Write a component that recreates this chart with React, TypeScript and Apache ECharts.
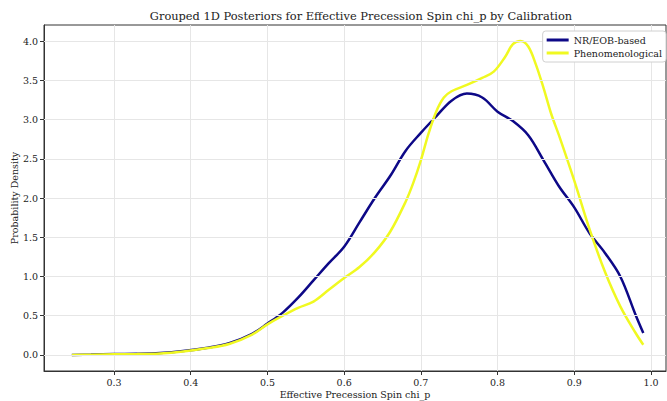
import React, { useEffect, useRef } from "react";
import * as echarts from "echarts";

const blueX = [0.245, 0.27, 0.3, 0.33, 0.36, 0.39, 0.42, 0.45, 0.48, 0.5, 0.52, 0.54, 0.56, 0.58, 0.6, 0.62, 0.64, 0.66, 0.68, 0.7, 0.72, 0.74, 0.76, 0.78, 0.8, 0.82, 0.84, 0.86, 0.88, 0.9, 0.92, 0.94, 0.96, 0.98, 0.99];
const blueY = [0.0, 0.005, 0.012, 0.015, 0.025, 0.05, 0.09, 0.15, 0.27, 0.4, 0.54, 0.73, 0.95, 1.17, 1.38, 1.69, 2.0, 2.28, 2.6, 2.83, 3.04, 3.24, 3.33, 3.28, 3.1, 2.98, 2.8, 2.48, 2.15, 1.88, 1.55, 1.3, 1.0, 0.51, 0.28];

const yellowX = [0.245, 0.27, 0.3, 0.33, 0.36, 0.39, 0.42, 0.45, 0.48, 0.5, 0.52, 0.54, 0.56, 0.58, 0.6, 0.62, 0.64, 0.66, 0.68, 0.69, 0.7, 0.71, 0.72, 0.73, 0.74, 0.76, 0.78, 0.795, 0.81, 0.82, 0.83, 0.84, 0.85, 0.86, 0.87, 0.88, 0.9, 0.92, 0.94, 0.96, 0.98, 0.99];
const yellowY = [0.0, 0.003, 0.008, 0.012, 0.02, 0.045, 0.085, 0.14, 0.26, 0.39, 0.5, 0.6, 0.68, 0.83, 0.98, 1.12, 1.31, 1.57, 1.95, 2.19, 2.48, 2.82, 3.1, 3.28, 3.36, 3.44, 3.53, 3.61, 3.8, 3.96, 4.0, 3.93, 3.7, 3.4, 3.07, 2.8, 2.22, 1.6, 1.06, 0.62, 0.28, 0.13];

const seriesNames = ["NR/EOB-based", "Phenomenological"];
const seriesColors = ["#0d0887", "#f0f921"];
const xTicks = [0.3, 0.4, 0.5, 0.6, 0.7, 0.8, 0.9, 1.0];
const yTicks = [0, 0.5, 1, 1.5, 2, 2.5, 3, 3.5, 4];

const FONT = "DejaVu Serif";

export default function App() {
  const ref = useRef<HTMLDivElement>(null);
  useEffect(() => {
    if (!ref.current) return;
    const chart = echarts.init(ref.current, undefined, { renderer: "svg" });
    const pair = (xs: number[], ys: number[]) => xs.map((x, i) => [x, ys[i]]);
    chart.setOption({
      animation: false,
      backgroundColor: "#ffffff",
      textStyle: { fontFamily: FONT },
      title: {
        text: "Grouped 1D Posteriors for Effective Precession Spin chi_p by Calibration",
        left: 356,
        textAlign: "center",
        top: 5,
        textStyle: { fontFamily: FONT, fontSize: 11.4, fontWeight: "normal", color: "#222" },
      },
      legend: {
        orient: "vertical",
        right: 1,
        top: 31,
        backgroundColor: "#fff",
        borderColor: "#d0d0d0",
        borderWidth: 1,
        borderRadius: 3,
        padding: [4, 4, 4, 4],
        itemGap: 3,
        itemWidth: 22,
        itemHeight: 3,
        icon: "rect",
        textStyle: { fontFamily: FONT, fontSize: 9.5, color: "#222" },
        data: seriesNames,
        z: 10,
      },
      grid: {
        left: 44,
        right: 1,
        top: 25,
        bottom: 30,
        outerBoundsMode: "none",
        containLabel: false,
        show: true,
        borderColor: "#333",
        borderWidth: 1,
        backgroundColor: "transparent",
      },
      xAxis: {
        type: "value",
        min: 0.2087,
        max: 1.0196,
        interval: 0.1,
        name: "Effective Precession Spin chi_p",
        nameLocation: "middle",
        nameGap: 18,
        nameMoveOverlap: false,
        nameTextStyle: { fontFamily: FONT, fontSize: 9.5, color: "#222" },
        axisLine: { show: true, onZero: false, lineStyle: { color: "#333" } },
        axisTick: { show: true, length: 4, lineStyle: { color: "#333" }, customValues: xTicks },
        axisLabel: {
          fontFamily: FONT,
          fontSize: 9.5,
          color: "#222",
          margin: 6,
          customValues: xTicks,
          formatter: (v: number) => v.toFixed(1),
        },
        splitLine: { show: true, lineStyle: { color: "#e6e6e6", width: 1 } },
      },
      yAxis: {
        type: "value",
        min: -0.204,
        max: 4.204,
        name: "Probability Density",
        nameLocation: "middle",
        nameGap: 25,
        nameMoveOverlap: false,
        nameTextStyle: { fontFamily: FONT, fontSize: 9.5, color: "#222" },
        axisLine: { show: true, onZero: false, lineStyle: { color: "#333" } },
        axisTick: { show: true, length: 4, lineStyle: { color: "#333" }, customValues: yTicks },
        axisLabel: {
          fontFamily: FONT,
          fontSize: 9.5,
          color: "#222",
          margin: 6,
          customValues: yTicks,
          formatter: (v: number) => v.toFixed(1),
        },
        splitLine: { show: false },
      },
      series: [
        {
          name: seriesNames[0],
          type: "line",
          data: pair(blueX, blueY),
          smooth: 0.35,
          showSymbol: false,
          lineStyle: { color: seriesColors[0], width: 2.5 },
          itemStyle: { color: seriesColors[0] },
          z: 3,
        },
        {
          name: seriesNames[1],
          type: "line",
          data: pair(yellowX, yellowY),
          smooth: 0.35,
          showSymbol: false,
          lineStyle: { color: seriesColors[1], width: 2.5 },
          itemStyle: { color: seriesColors[1] },
          z: 4,
        },
        {
          type: "line",
          data: [],
          silent: true,
          markLine: {
            silent: true,
            symbol: "none",
            label: { show: false },
            lineStyle: { color: "#e6e6e6", width: 1, type: "solid" },
            data: yTicks.map((v) => ({ yAxis: v })),
          },
          z: 1,
        },
      ],
    });
    return () => chart.dispose();
  }, []);
  return <div ref={ref} style={{ width: 667, height: 401, position: "absolute", left: 0, top: 0 }} />;
}
